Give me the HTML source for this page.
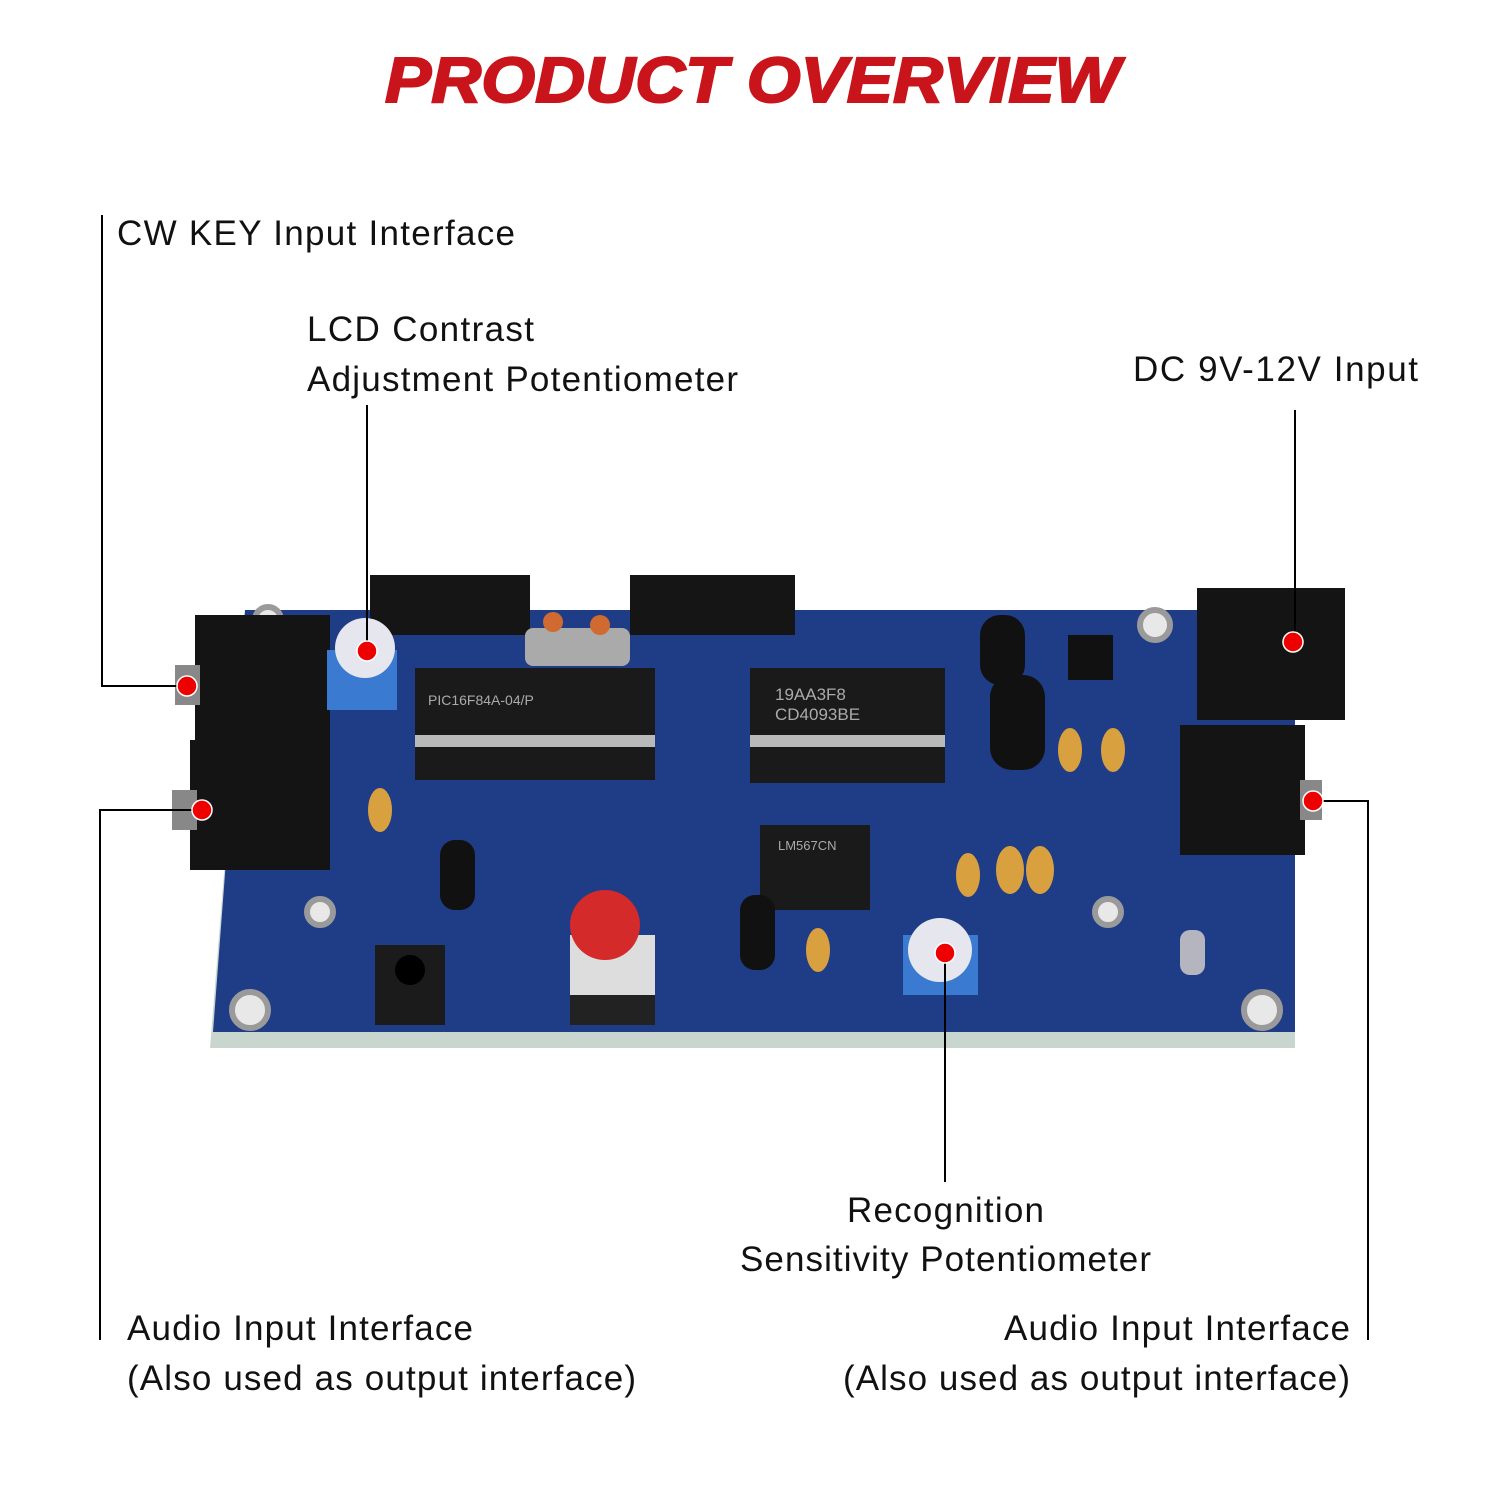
<!DOCTYPE html>
<html><head><meta charset="utf-8"><style>
body{margin:0;background:#fff;}
svg{display:block}
text{font-family:"Liberation Sans",sans-serif;}
</style></head><body>
<svg width="1500" height="1500" viewBox="0 0 1500 1500" xmlns="http://www.w3.org/2000/svg">
<rect width="1500" height="1500" fill="#fff"/>
<text x="385" y="102" textLength="735" lengthAdjust="spacingAndGlyphs" font-size="64" font-weight="bold" font-style="italic" fill="#c8141a" stroke="#c8141a" stroke-width="2">PRODUCT OVERVIEW</text>

<!-- board -->
<polygon points="245,612 1295,612 1295,1048 210,1048" fill="#c9d6d0"/>
<polygon points="245,610 1295,610 1295,1032 213,1032" fill="#1f3d86"/>
<g fill="#e8e8e8" stroke="#9a9a9a" stroke-width="6">
<circle cx="268" cy="620" r="13"/><circle cx="320" cy="912" r="13"/><circle cx="250" cy="1010" r="18"/>
<circle cx="1155" cy="625" r="15"/><circle cx="1108" cy="912" r="13"/><circle cx="1262" cy="1010" r="18"/>
</g>
<rect x="370" y="575" width="160" height="60" fill="#151515"/>
<rect x="630" y="575" width="165" height="60" fill="#151515"/>
<rect x="525" y="628" width="105" height="38" rx="8" fill="#aaa"/>
<circle cx="553" cy="622" r="10" fill="#d06a30"/><circle cx="600" cy="625" r="10" fill="#d06a30"/>
<rect x="415" y="668" width="240" height="112" fill="#1a1a1a"/>
<rect x="415" y="735" width="240" height="12" fill="#b9b9b9"/>
<rect x="750" y="668" width="195" height="115" fill="#1a1a1a"/>
<rect x="750" y="735" width="195" height="12" fill="#b9b9b9"/>
<rect x="760" y="825" width="110" height="85" fill="#1a1a1a"/>
<text x="428" y="705" font-size="14" fill="#aaa">PIC16F84A-04/P</text>
<text x="775" y="700" font-size="17" fill="#aaa">19AA3F8</text>
<text x="775" y="720" font-size="17" fill="#aaa">CD4093BE</text>
<text x="778" y="850" font-size="13" fill="#aaa">LM567CN</text>
<rect x="195" y="615" width="135" height="125" fill="#141414"/>
<rect x="190" y="740" width="140" height="130" fill="#141414"/>
<rect x="175" y="665" width="25" height="40" fill="#888"/>
<rect x="172" y="790" width="25" height="40" fill="#888"/>
<rect x="1180" y="725" width="125" height="130" fill="#141414"/>
<rect x="1300" y="780" width="22" height="40" fill="#888"/>
<rect x="1197" y="588" width="148" height="132" fill="#141414"/>
<rect x="327" y="650" width="70" height="60" fill="#3a7ad0"/>
<circle cx="365" cy="648" r="30" fill="#e6e6ee"/>
<rect x="903" y="935" width="75" height="60" fill="#3a7ad0"/>
<circle cx="940" cy="950" r="32" fill="#e6e6ee"/>
<g fill="#d9a040">
<ellipse cx="380" cy="810" rx="12" ry="22"/><ellipse cx="1070" cy="750" rx="12" ry="22"/><ellipse cx="1113" cy="750" rx="12" ry="22"/>
<ellipse cx="968" cy="875" rx="12" ry="22"/><ellipse cx="1010" cy="870" rx="14" ry="24"/><ellipse cx="1040" cy="870" rx="14" ry="24"/>
<ellipse cx="818" cy="950" rx="12" ry="22"/>
</g>
<g fill="#111">
<rect x="980" y="615" width="45" height="70" rx="20"/><rect x="990" y="675" width="55" height="95" rx="22"/>
<rect x="440" y="840" width="35" height="70" rx="15"/><rect x="740" y="895" width="35" height="75" rx="15"/>
<rect x="1068" y="635" width="45" height="45"/>
</g>
<rect x="570" y="935" width="85" height="90" fill="#ddd"/>
<rect x="570" y="995" width="85" height="30" fill="#222"/>
<circle cx="605" cy="925" r="35" fill="#d42a2a"/>
<rect x="375" y="945" width="70" height="80" fill="#1b1b1b"/>
<circle cx="410" cy="970" r="15" fill="#000"/>
<rect x="1180" y="930" width="25" height="45" rx="10" fill="#b5b5c0"/>

<g stroke="#000" stroke-width="2" fill="none">
<polyline points="102,215 102,686 187,686"/>
<line x1="367" y1="405" x2="367" y2="651"/>
<line x1="1295" y1="410" x2="1295" y2="642"/>
<polyline points="202,810 100,810 100,1340"/>
<polyline points="1313,801 1368,801 1368,1340"/>
<line x1="945" y1="953" x2="945" y2="1182"/>
</g>
<g fill="#e00" stroke="#fff" stroke-width="1.5">
<circle cx="187" cy="686" r="10"/><circle cx="367" cy="651" r="10"/><circle cx="1293" cy="642" r="10"/>
<circle cx="202" cy="810" r="10"/><circle cx="1313" cy="801" r="10"/><circle cx="945" cy="953" r="10"/>
</g>

<g font-size="35" fill="#111" lengthAdjust="spacingAndGlyphs">
<text x="117" y="245" textLength="398">CW KEY Input Interface</text>
<text x="307" y="341" textLength="227">LCD Contrast</text>
<text x="307" y="391" textLength="431">Adjustment Potentiometer</text>
<text x="1133" y="381" textLength="285">DC 9V-12V Input</text>
<text x="847" y="1222" textLength="197">Recognition</text>
<text x="740" y="1271" textLength="411">Sensitivity Potentiometer</text>
<text x="127" y="1340" textLength="346">Audio Input Interface</text>
<text x="127" y="1390" textLength="509">(Also used as output interface)</text>
<text x="1004" y="1340" textLength="346">Audio Input Interface</text>
<text x="843" y="1390" textLength="507">(Also used as output interface)</text>
</g>
</svg>
</body></html>
